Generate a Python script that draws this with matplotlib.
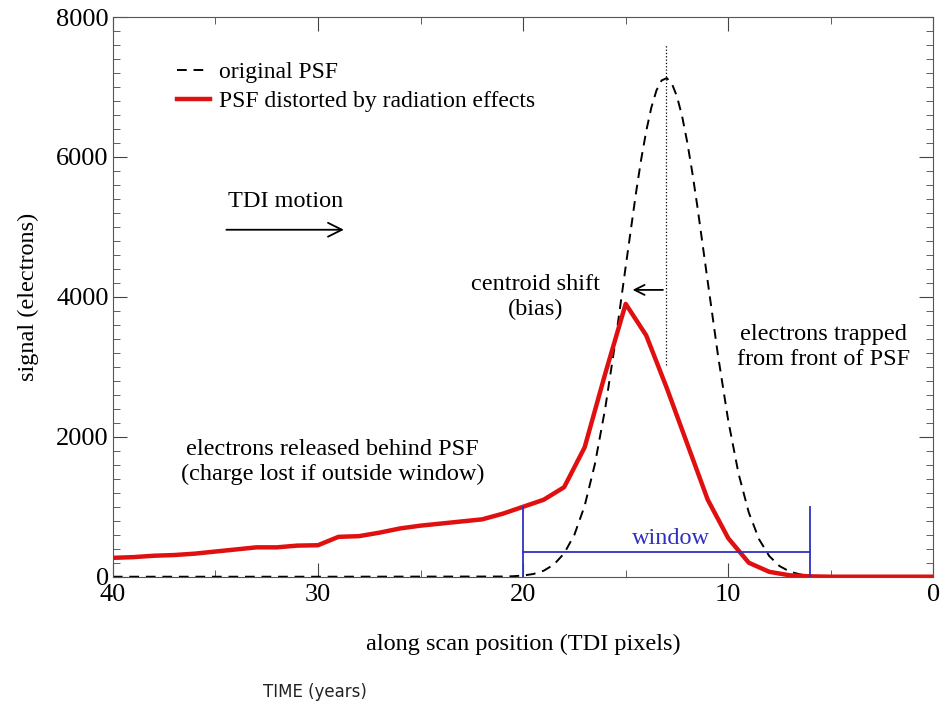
import matplotlib
matplotlib.use("Agg")
import matplotlib.pyplot as plt
from matplotlib.ticker import MultipleLocator

plt.rcParams['font.family'] = ['Liberation Serif', 'DejaVu Serif']

# PSF distorti dalla radiazione
x_red = [40, 39, 38, 37, 36, 35, 34, 33, 32, 31, 30, 29, 28, 27, 26, 25, 24, 23, 22, 21,
         20, 19, 18, 17, 16, 15, 14, 13, 12, 11, 10, 9, 8, 7, 6, 5, 4, 3, 2, 1, 0]
y_red = [270, 280, 300, 310, 330, 360, 390, 420, 420, 445, 450, 570, 580, 630, 690, 730, 760, 790, 820, 900,
         1000, 1100, 1280, 1850, 2900, 3900, 3450, 2700, 1900, 1100, 550, 200, 70, 20, 5, 0, 0, 0, 0, 0, 0]

# PSF originale
x_psf = [40, 30, 21, 20.5, 20, 19.5, 19, 18.5, 18, 17.5, 17, 16.5, 16, 15.5, 15, 14.5, 14.25, 14, 13.75,
         13.5, 13.25, 13, 12.75, 12.5, 12.25, 12, 11.75, 11.5, 11, 10.5, 10, 9.5, 9, 8.5, 8, 7.5, 7,
         6.5, 6, 5.5, 5, 0]
y_psf = [0, 0, 3, 7, 17, 39, 85, 174, 333, 600, 1014, 1611, 2402, 3367, 4433, 5482, 5957, 6369, 6707,
         6952, 7094, 7128, 7050, 6865, 6582, 6212, 5773, 5280, 4217, 3163, 2229, 1475, 918, 536, 294, 152, 73,
         33, 14, 6, 0, 0]

win_lo, win_hi = 20, 6
centroid_orig = 13.05

fig = plt.figure(figsize=(9.4, 7.12), dpi=100)
ax = fig.add_axes([0.120, 0.190, 0.873, 0.786])

ax.plot(x_psf, y_psf, color='black', ls=(0, (5, 3.5)), lw=1.4, label='original PSF')
ax.plot(x_red, y_red, color='#e01010', lw=3.2, label='PSF distorted by radiation effects')

# finestra
ax.plot([win_lo, win_lo], [0, 1000], color='#3030c0', lw=1.3)
ax.plot([win_hi, win_hi], [0, 1000], color='#3030c0', lw=1.3)
ax.plot([win_lo, win_hi], [360, 360], color='#3030c0', lw=1.3)
ax.text(12.8, 550, 'window', color='#3030c0', fontsize=17.5, ha='center', va='center')

# linea centroide
ax.plot([centroid_orig, centroid_orig], [3030, 7600], color='black', ls=':', lw=0.9)
ax.annotate('', xy=(14.8, 4100), xytext=(centroid_orig, 4100),
            arrowprops=dict(arrowstyle='->', color='black', lw=1.3, mutation_scale=18))
ax.text(19.4, 4000, 'centroid shift\n(bias)', fontsize=17.5, ha='center', va='center', linespacing=1.25)

ax.annotate('', xy=(28.6, 4960), xytext=(34.6, 4960),
            arrowprops=dict(arrowstyle='->', color='black', lw=1.3, mutation_scale=25))
ax.text(31.6, 5360, 'TDI motion', fontsize=17.5, ha='center', va='center')

ax.text(5.35, 3290, 'electrons trapped\nfrom front of PSF', fontsize=17.5, ha='center', va='center',
        linespacing=1.25)
ax.text(29.3, 1640, 'electrons released behind PSF\n(charge lost if outside window)', fontsize=17.5,
        ha='center', va='center', linespacing=1.25)

ax.set_xlim(40, 0)
ax.set_ylim(0, 8000)
ax.xaxis.set_major_locator(MultipleLocator(10))
ax.xaxis.set_minor_locator(MultipleLocator(5))
ax.yaxis.set_major_locator(MultipleLocator(2000))
ax.yaxis.set_minor_locator(MultipleLocator(200))
ax.tick_params(which='both', direction='in', top=True, right=True, labelsize=19, color='#444444')
ax.tick_params(which='major', length=10)
ax.tick_params(which='minor', length=5)
ax.tick_params(axis='x', pad=5)
ax.tick_params(axis='y', pad=3)
for s in ax.spines.values():
    s.set_color('#555555')

ax.set_xlabel('along scan position (TDI pixels)', fontsize=17.5, labelpad=20)
ax.set_ylabel('signal (electrons)', fontsize=17.5, labelpad=12)

ax.legend(loc='upper left', bbox_to_anchor=(0.052, 0.958), frameon=False, fontsize=17,
          handlelength=1.4, handletextpad=0.4, labelspacing=0.3)

fig.text(0.335, 0.028, 'TIME (years)', fontsize=12, family='DejaVu Sans', color='#222222',
         ha='center', va='center')

fig.savefig('out.png', dpi=100)
